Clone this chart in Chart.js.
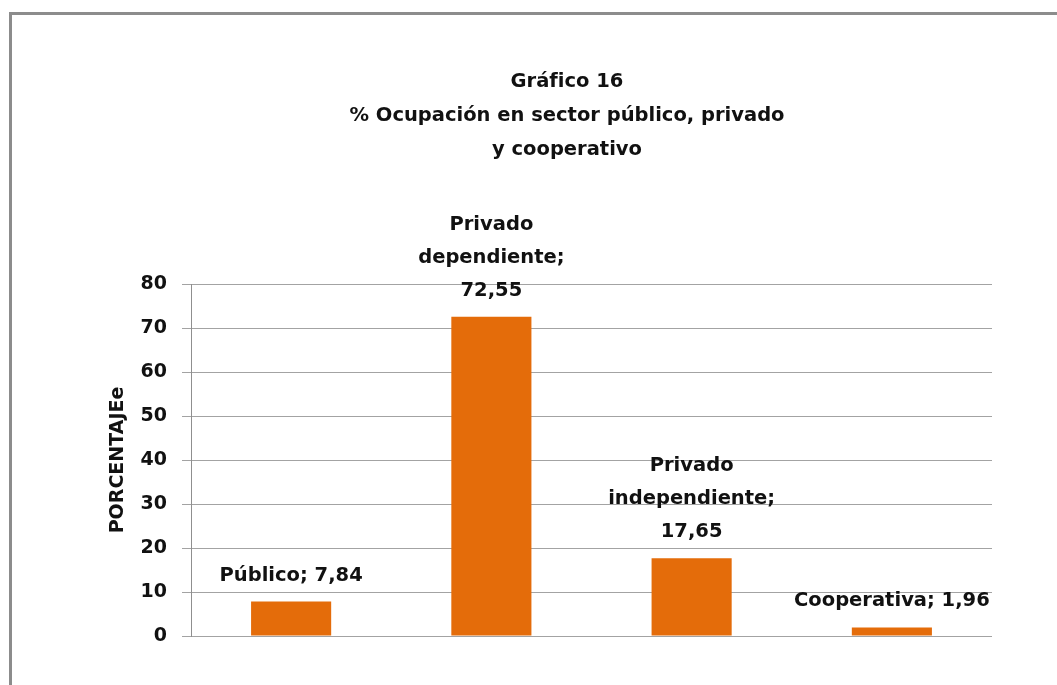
<!DOCTYPE html>
<html lang="es">
<head>
    <meta charset="UTF-8" />
    <title>Gráfico 16</title>
    <script src="https://cdn.jsdelivr.net/npm/chart.js"></script>
    <style>
        body { margin: 0; overflow: hidden; background: #fff; }
        #frame {
            position: absolute; left: 9px; top: 12px; width: 1100px; height: 700px;
            border-left: 3px solid #8c8c8c; border-top: 3px solid #8c8c8c;
        }
        #wrap { position: absolute; left: 0; top: 0; width: 1057px; height: 685px; }
    </style>
</head>
<body>
    <div id="frame"></div>
    <div id="wrap"><canvas id="chart"></canvas></div>

    <script>
        // categories: multi-word names hold their own line breaks as in the picture
        const categories = ['Público', ['Privado', 'dependiente'], ['Privado', 'independiente'], 'Cooperativa'];
        const values = [7.84, 72.55, 17.65, 1.96];
        const yTicks = [0, 10, 20, 30, 40, 50, 60, 70, 80];
        const titleLines = ['Gráfico 16', '% Ocupación en sector público, privado', 'y cooperativo'];

        const FONT = 'DejaVu Sans';

        const fmt = v => v.toFixed(2).replace('.', ',');

        // data labels "name; value" drawn above every bar
        const barLabels = {
            id: 'barLabels',
            afterDatasetsDraw(chart) {
                const ctx = chart.ctx;
                const meta = chart.getDatasetMeta(0);
                ctx.save();
                ctx.font = 'bold 19.5px "' + FONT + '"';
                ctx.fillStyle = '#111';
                ctx.textAlign = 'center';
                ctx.textBaseline = 'middle';
                meta.data.forEach((bar, i) => {
                    const name = categories[i];
                    const v = fmt(values[i]);
                    let lines;
                    if (Array.isArray(name)) {
                        lines = name.slice();
                        lines[lines.length - 1] += ';';
                        lines.push(v);
                    } else {
                        lines = [name + '; ' + v];
                    }
                    let y = bar.y - 26;
                    for (let k = lines.length - 1; k >= 0; k--) {
                        ctx.fillText(lines[k], bar.x, y);
                        y -= 33;
                    }
                });
                ctx.restore();
            }
        };

        new Chart(document.getElementById('chart'), {
            type: 'bar',
            data: {
                labels: categories.map(c => Array.isArray(c) ? c.join(' ') : c),
                datasets: [{
                    data: values,
                    backgroundColor: '#e46c0a',
                    borderWidth: 0,
                    categoryPercentage: 1,
                    barPercentage: 0.4
                }]
            },
            options: {
                responsive: true,
                maintainAspectRatio: false,
                animation: false,
                layout: { padding: { left: 77, right: 0, top: 0, bottom: 49 } },
                plugins: {
                    legend: { display: false },
                    tooltip: { enabled: false },
                    title: {
                        display: true,
                        text: titleLines,
                        color: '#111',
                        font: { family: FONT, size: 19.5, weight: 'bold', lineHeight: 34 / 19.5 },
                        padding: { top: 65, bottom: 117 }
                    }
                },
                scales: {
                    x: { display: false },
                    y: {
                        min: 0,
                        max: 80,
                        afterBuildTicks: s => { s.ticks = yTicks.map(v => ({ value: v })); },
                        afterFit: s => { s.width = 114; },
                        grid: { color: '#a3a3a3', lineWidth: 1, tickLength: 9 },
                        border: { color: '#8f8f8f', width: 1 },
                        ticks: {
                            color: '#111',
                            padding: 15,
                            font: { family: FONT, size: 19, weight: 'bold' }
                        },
                        title: {
                            display: true,
                            text: 'PORCENTAJEe',
                            color: '#111',
                            padding: { top: 30, bottom: 0 },
                            font: { family: FONT, size: 19, weight: 'bold' }
                        }
                    },
                    y2: {
                        type: 'linear',
                        position: 'right',
                        grid: { display: false },
                        border: { display: false },
                        ticks: { display: false },
                        afterFit: s => { s.width = 65; }
                    }
                }
            },
            plugins: [barLabels]
        });
    </script>
</body>
</html>
